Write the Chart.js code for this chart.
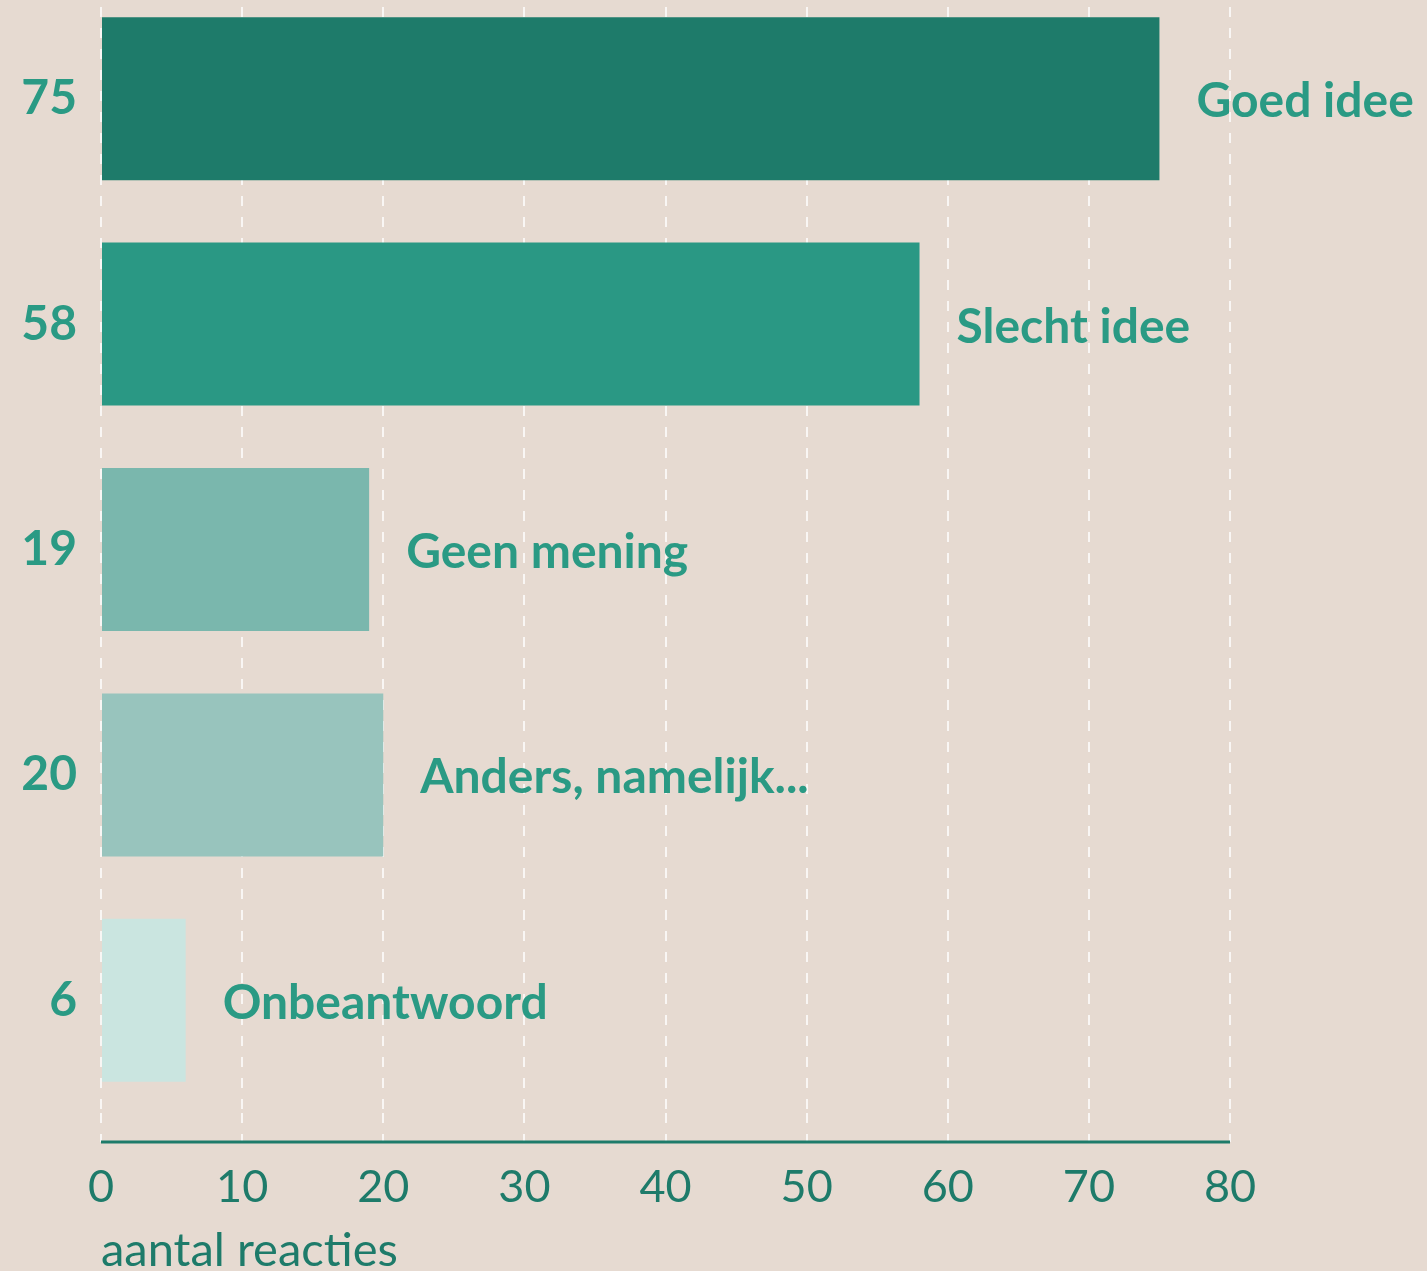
<!DOCTYPE html>
<html>
<head>
<meta charset="utf-8">
<script src="https://cdn.jsdelivr.net/npm/chart.js@4/dist/chart.umd.min.js"></script>
<style>
  html, body { margin: 0; padding: 0; background: #e6dad1; overflow: hidden; }
  #page { width: 1427px; height: 1271px; position: relative; overflow: hidden; }
  /* chart box starts a little above the page so the top bar sits close to the edge */
  #wrap { position: absolute; left: 0; top: -14px; width: 1427px; height: 1285px; }
</style>
</head>
<body>
<div id="page"><div id="wrap"><canvas id="chart"></canvas></div></div>
<script>
// Data
const categories = ['Goed idee', 'Slecht idee', 'Geen mening', 'Anders, namelijk...', 'Onbeantwoord'];
const counts = [75, 58, 19, 20, 6];
const barColors = ['#1e7b6a', '#2a9884', '#7ab7ad', '#98c4bd', '#cae5e0'];
const xTicks = [0, 10, 20, 30, 40, 50, 60, 70, 80];

const teal = '#2a9a84';
const darkTeal = '#1e7b6a';
const fontFamily = 'Lato, "Open Sans", sans-serif';
const gridColor = 'rgba(255,255,255,0.75)';

// Labels to the right of each bar
const barLabels = {
    id: 'barLabels',
    afterDatasetsDraw(chart) {
        const ctx = chart.ctx;
        const meta = chart.getDatasetMeta(0);
        ctx.save();
        ctx.font = 'bold 48px ' + fontFamily;
        ctx.fillStyle = teal;
        ctx.textAlign = 'left';
        ctx.textBaseline = 'middle';
        meta.data.forEach((bar, i) => {
            ctx.fillText(categories[i], bar.x + 37, bar.y + 3);
        });
        ctx.restore();
    }
};

// Bottom axis line, drawn below the chart area at the end of the grid ticks
const axisLine = {
    id: 'axisLine',
    afterDraw(chart) {
        const ctx = chart.ctx;
        const x = chart.scales.x;
        const y = chart.chartArea.bottom + 29;
        ctx.save();
        ctx.strokeStyle = darkTeal;
        ctx.lineWidth = 3;
        ctx.beginPath();
        ctx.moveTo(x.getPixelForValue(0), y);
        ctx.lineTo(x.getPixelForValue(80), y);
        ctx.stroke();
        ctx.restore();
    }
};

new Chart(document.getElementById('chart'), {
    type: 'bar',
    data: {
        labels: categories,
        datasets: [{
            data: counts,
            backgroundColor: barColors,
            borderWidth: 0,
            categoryPercentage: 1,
            barPercentage: 0.723
        }]
    },
    options: {
        indexAxis: 'y',
        responsive: true,
        maintainAspectRatio: false,
        animation: false,
        layout: {
            padding: { top: 0, right: 197, bottom: 0, left: 0 }
        },
        plugins: {
            legend: { display: false },
            tooltip: { enabled: false }
        },
        scales: {
            x: {
                min: 0,
                max: 80,
                afterBuildTicks(scale) {
                    scale.ticks = xTicks.map(v => ({ value: v }));
                },
                afterFit(scale) {
                    scale.height = 158;
                    scale.paddingLeft = 0;
                    scale.paddingRight = 0;
                },
                border: { display: false, dash: [10, 11] },
                grid: {
                    color: gridColor,
                    lineWidth: 2,
                    tickBorderDash: [10, 11],
                    tickColor: gridColor,
                    tickWidth: 2,
                    tickLength: 29,
                    drawTicks: true
                },
                ticks: {
                    color: darkTeal,
                    padding: 18,
                    maxRotation: 0,
                    font: { family: fontFamily, size: 45 }
                },
                title: {
                    display: true,
                    text: 'aantal reacties',
                    align: 'start',
                    color: darkTeal,
                    padding: { top: 0, bottom: -3 },
                    font: { family: fontFamily, size: 47, lineHeight: 1 }
                }
            },
            y: {
                afterFit(scale) {
                    scale.width = 101;
                    scale.paddingTop = 0;
                    scale.paddingBottom = 0;
                },
                border: { display: false },
                grid: { display: false, drawTicks: false },
                ticks: {
                    color: teal,
                    padding: 24,
                    callback: (v, i) => String(counts[i]),
                    font: { family: fontFamily, size: 48, weight: 'bold' }
                }
            }
        }
    },
    plugins: [barLabels, axisLine]
});
</script>
</body>
</html>
